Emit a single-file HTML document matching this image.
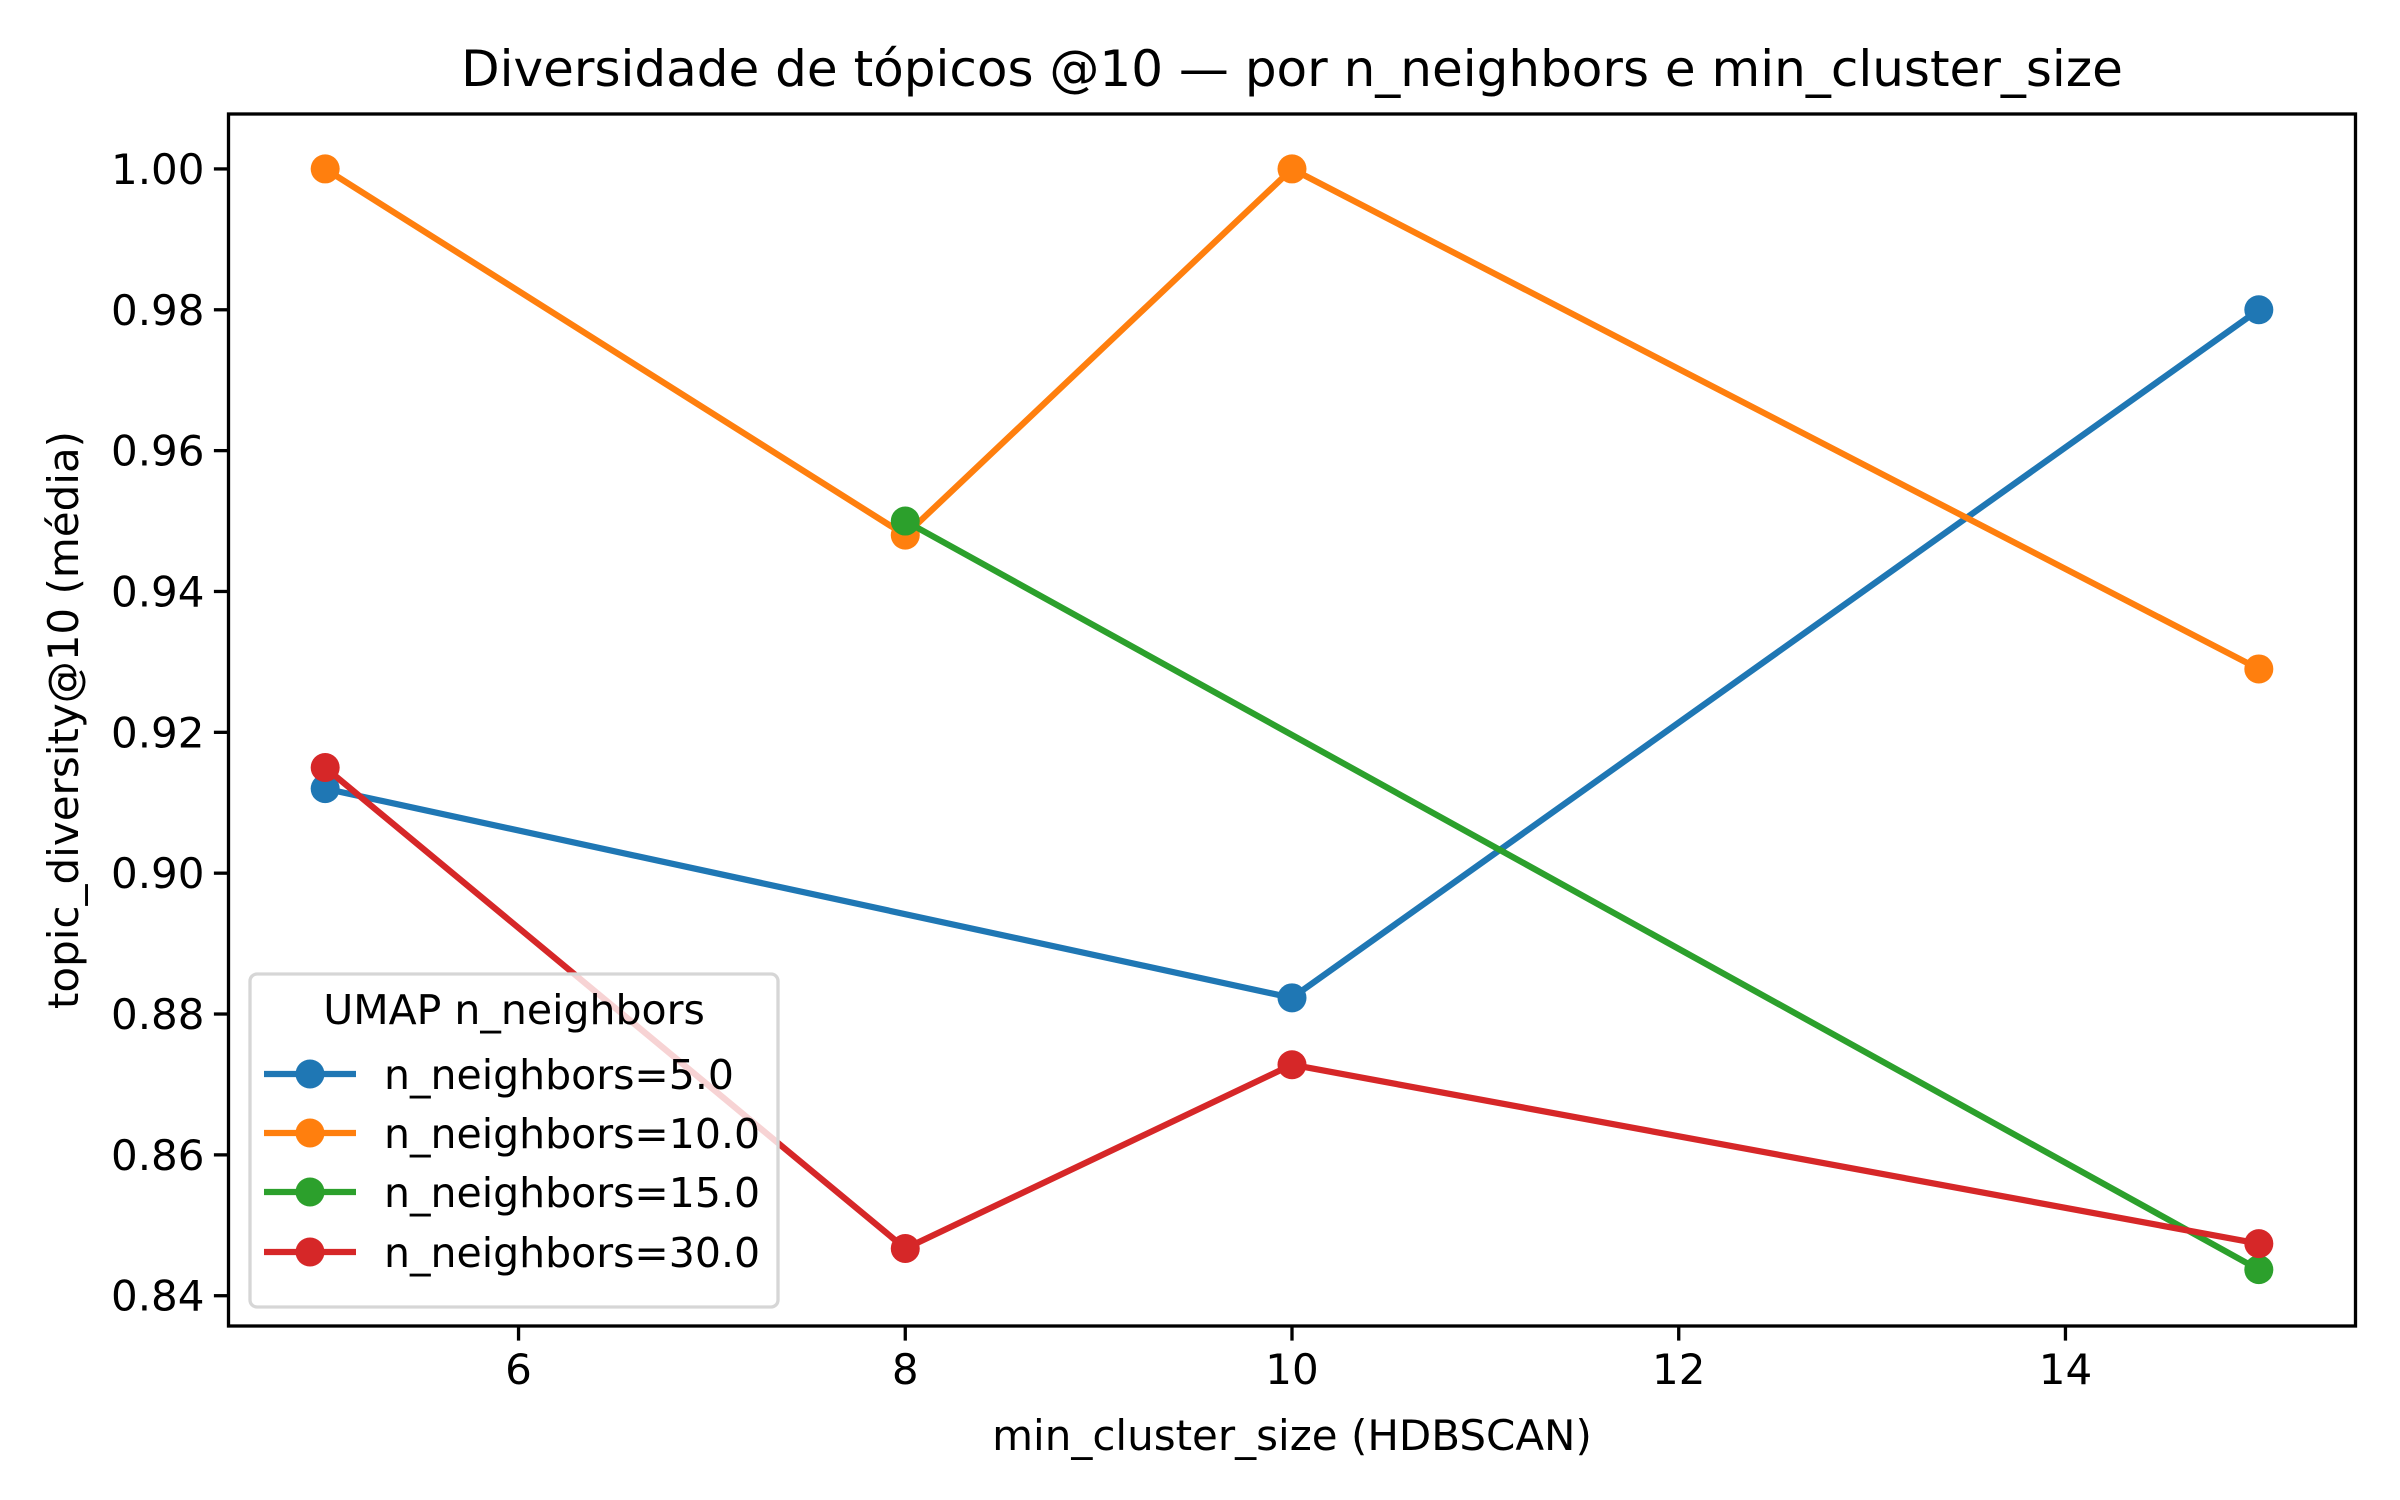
<!DOCTYPE html>
<html><head><meta charset="utf-8"><style>
html,body{margin:0;padding:0;background:#fff}
svg{display:block;font-family:"DejaVu Sans","Liberation Sans",sans-serif}
</style></head><body>
<svg id="chart" width="2400" height="1500" viewBox="0 0 2400 1500" xmlns="http://www.w3.org/2000/svg">
<rect width="2400" height="1500" fill="#fff"/>
<text x="1292" y="86" font-size="50" text-anchor="middle">Diversidade de tópicos @10 — por n_neighbors e min_cluster_size</text>
<g id="grid"></g>
<g id="series"></g>
<rect x="228.5" y="114" width="2127" height="1212" fill="none" stroke="#000" stroke-width="3.3"/>
<g id="axes"></g>
<text x="1292" y="1450" font-size="42" text-anchor="middle">min_cluster_size (HDBSCAN)</text>
<text transform="translate(78,720) rotate(-90)" font-size="42" text-anchor="middle">topic_diversity@10 (média)</text>
<g id="legend"></g>
</svg>
<script>
const seriesNames = ["n_neighbors=5.0","n_neighbors=10.0","n_neighbors=15.0","n_neighbors=30.0"];
const seriesColors = ["#1f77b4","#ff7f0e","#2ca02c","#d62728"];
const xBlue = [5,10,15];
const yBlue = [0.912,0.8823,0.980];
const xOrange = [5,8,10,15];
const yOrange = [1.0,0.948,1.0,0.929];
const xGreen = [8,15];
const yGreen = [0.950,0.8437];
const xRed = [5,8,10,15];
const yRed = [0.915,0.8467,0.8728,0.8474];
const xTicks = [6,8,10,12,14];
const yTicks = [0.84,0.86,0.88,0.90,0.92,0.94,0.96,0.98,1.00];
const yTickLabels = ["0.84","0.86","0.88","0.90","0.92","0.94","0.96","0.98","1.00"];

const NS="http://www.w3.org/2000/svg";
const L=228.5,R=2355.5,T=114,B=1326;
const xMin=4.5,xMax=15.5,yMin=0.8357,yMax=1.0078;
const sx=v=>L+(v-xMin)/(xMax-xMin)*(R-L);
const sy=v=>B-(v-yMin)/(yMax-yMin)*(B-T);
function mk(tag,attrs,parent){const e=document.createElementNS(NS,tag);for(const k in attrs)e.setAttribute(k,attrs[k]);parent.appendChild(e);return e;}
const axes=document.getElementById('axes');
xTicks.forEach(t=>{
  const l=mk('line',{x1:sx(t),x2:sx(t),y1:B,y2:B+14.6,stroke:'#000','stroke-width':3.3},axes);
  
  
  const tx=mk('text',{x:sx(t),y:B+58,'font-size':42,'text-anchor':'middle'},axes);
  
  
  tx.textContent=String(t);
});
yTicks.forEach((t,i)=>{
  const l=mk('line',{x1:L-14.6,x2:L,y1:sy(t),y2:sy(t),stroke:'#000','stroke-width':3.3},axes);
  
  
  const tx=mk('text',{x:L-24,y:sy(t)+15,'font-size':42,'text-anchor':'end'},axes);
  
  
  tx.textContent=yTickLabels[i];
});
const sg=document.getElementById('series');
const data=[[xBlue,yBlue],[xOrange,yOrange],[xGreen,yGreen],[xRed,yRed]];
data.forEach((d,i)=>{
  const g=mk('g',{},sg);
  
  
  const pts=d[0].map((x,j)=>sx(x)+','+sy(d[1][j])).join(' ');
  const pl=mk('polyline',{points:pts,fill:'none',stroke:seriesColors[i],'stroke-width':6.25,'stroke-linejoin':'round','stroke-linecap':'square'},g);
  
  
  d[0].forEach((x,j)=>{
    const c=mk('circle',{cx:sx(x),cy:sy(d[1][j]),r:14.5,fill:seriesColors[i]},g);
    
    
  });
});
const lg=document.getElementById('legend');


const box=mk('rect',{x:250,y:974,width:528,height:333,rx:7,fill:'#fff','fill-opacity':0.8,stroke:'#d6d6d6','stroke-width':3.3},lg);


const lt=mk('text',{x:514,y:1024,'font-size':41,'text-anchor':'middle'},lg);


lt.textContent='UMAP n_neighbors';
const rows=[1074,1133,1192,1252];
seriesNames.forEach((n,i)=>{
  const g=mk('g',{},lg);
  
  
  mk('line',{x1:264,x2:356,y1:rows[i],y2:rows[i],stroke:seriesColors[i],'stroke-width':6.25},g);
  mk('circle',{cx:310,cy:rows[i],r:14.5,fill:seriesColors[i]},g);
  const t=mk('text',{x:384,y:rows[i]+15,'font-size':41},g);
  
  
  t.textContent=n;
});
</script>
</body></html>
